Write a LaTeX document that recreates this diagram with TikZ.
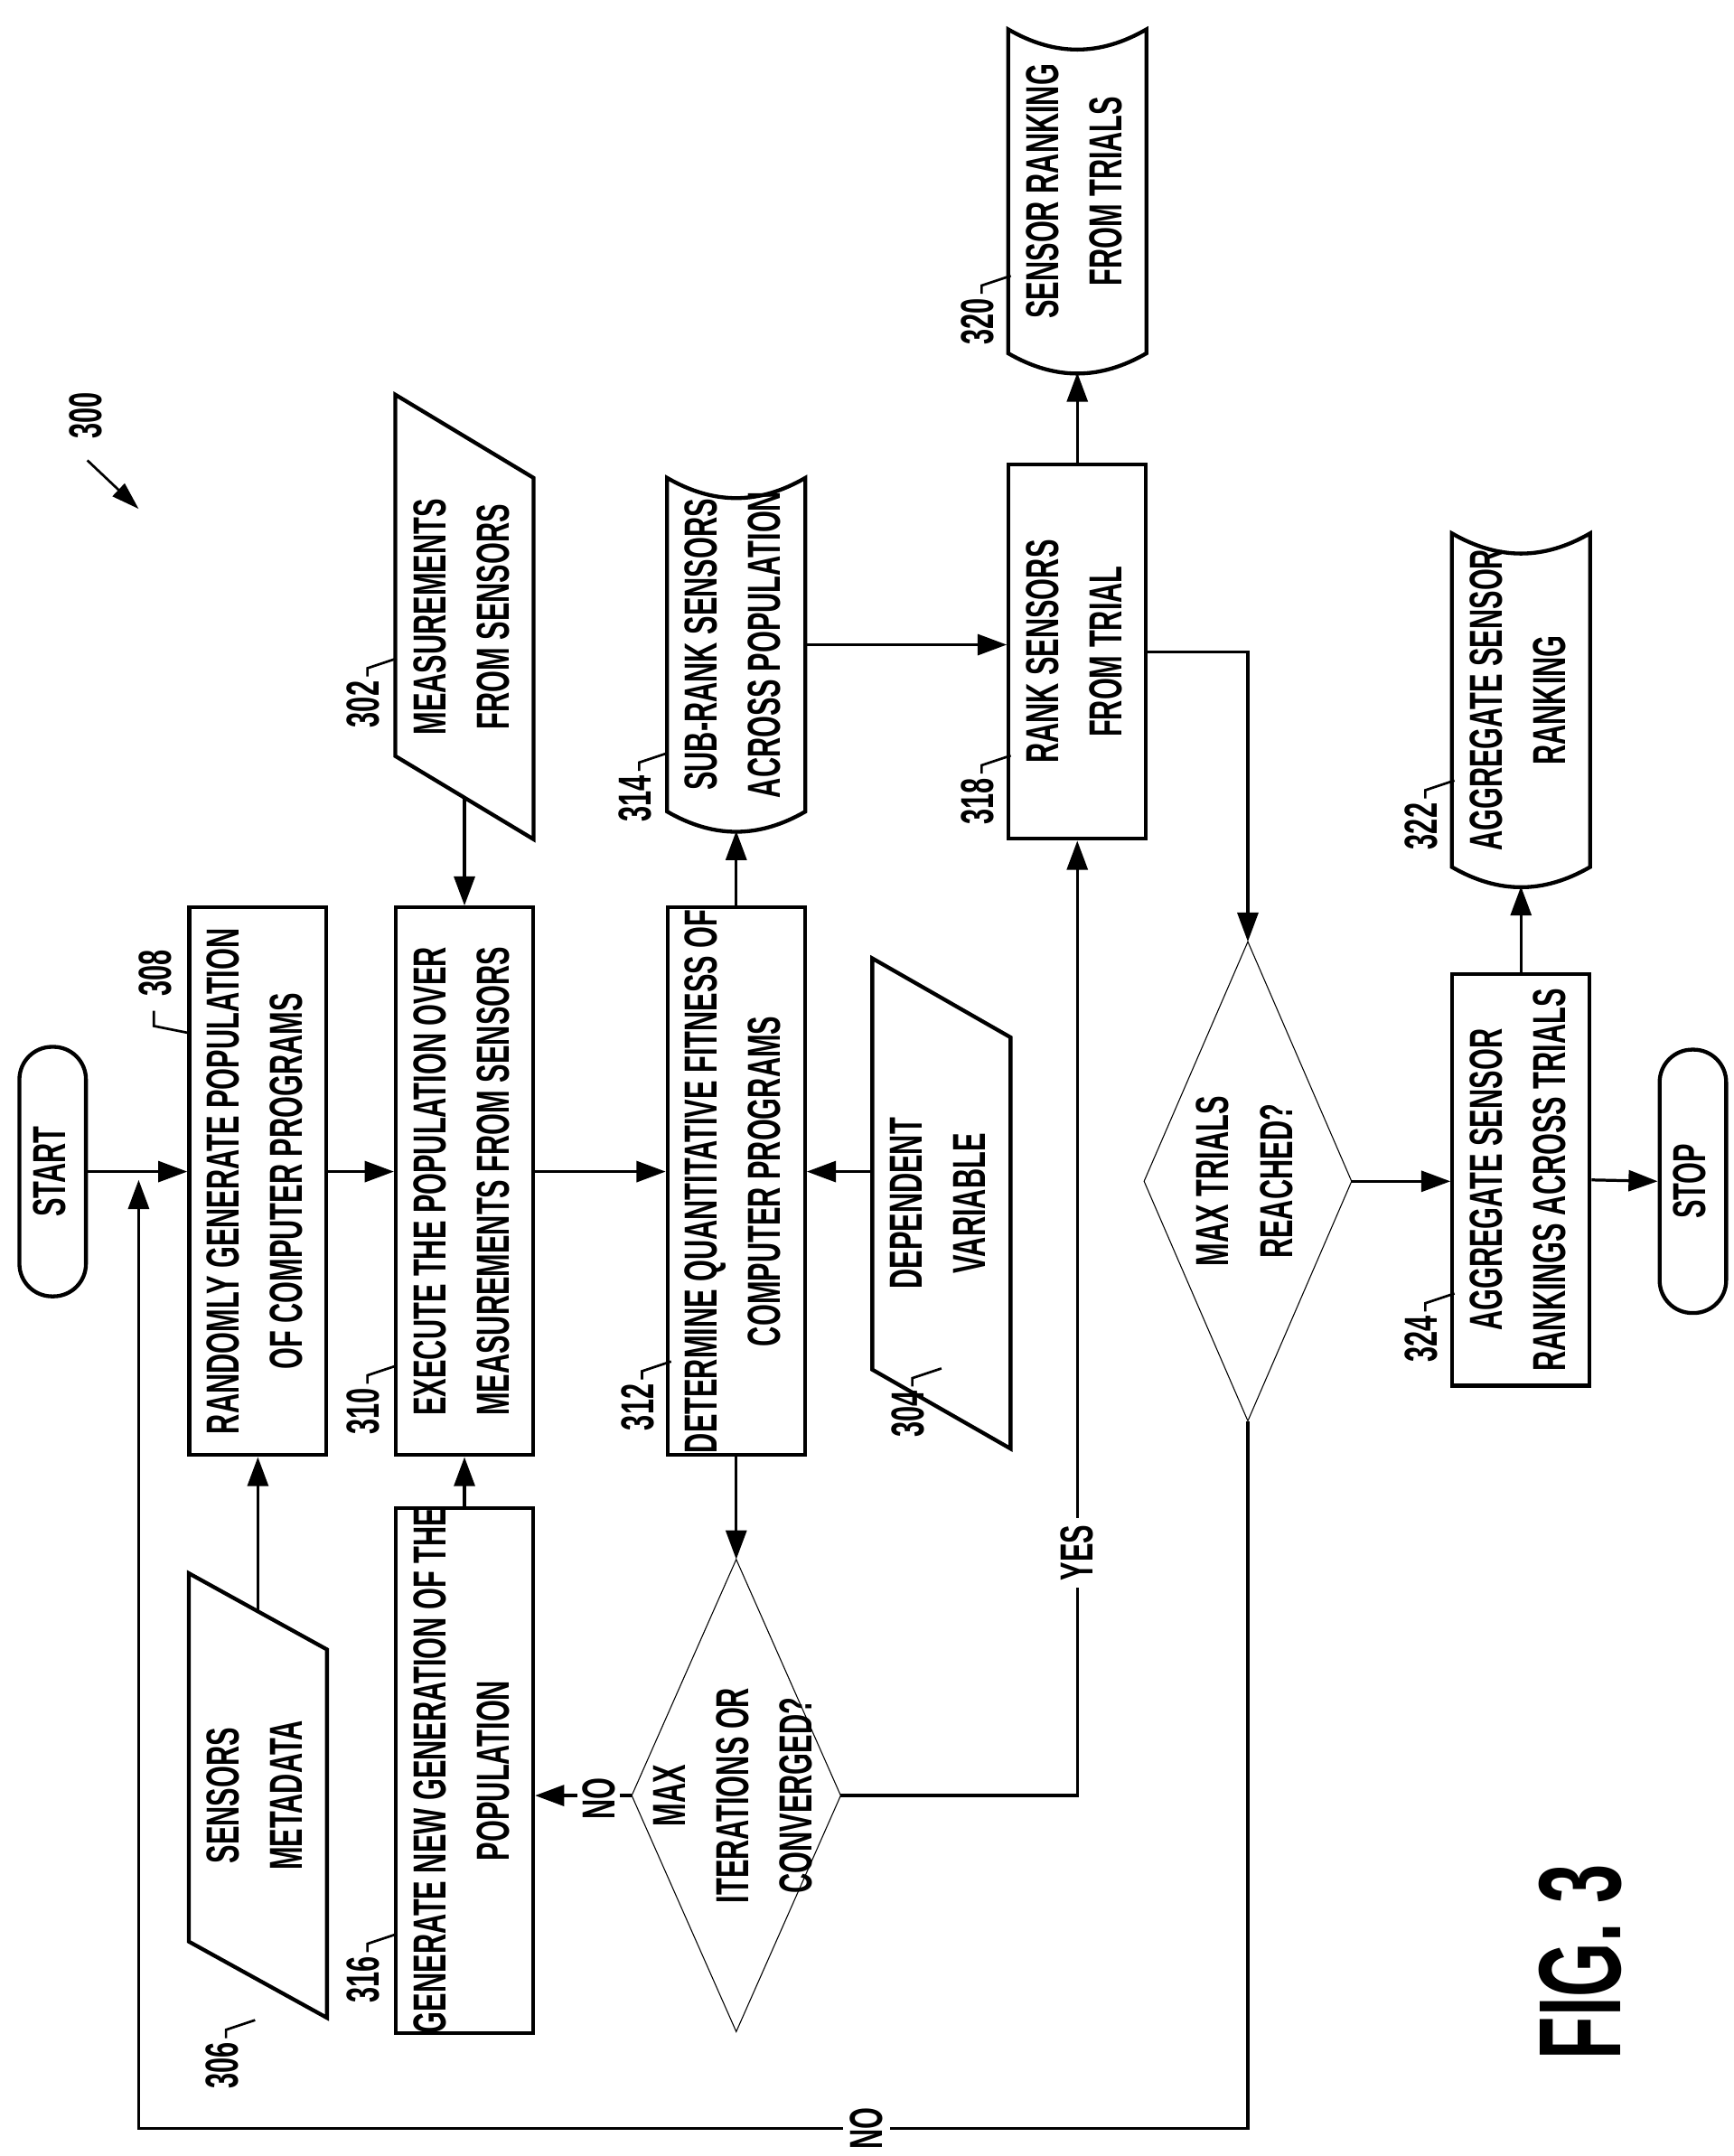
\documentclass[tikz,border=0pt]{standalone}
\usepackage{fontspec}
\setmainfont{Liberation Sans}[FakeStretch=0.6]
\usetikzlibrary{positioning,calc,arrows.meta,shapes.geometric}

\newcommand{\vtext}[1]{\rotatebox{90}{\begin{tabular}{@{}c@{}}#1\end{tabular}}}

\tikzset{
  base/.style={font=\fontsize{19}{26}\selectfont\bfseries, inner sep=0pt, align=center},
  box/.style={base, draw, line width=1.6pt, minimum width=1.98cm},
  area/.style={base, minimum width=1.98cm},
  term/.style={base, draw, line width=1.6pt, rounded corners=0.47cm, minimum width=0.96cm},
  outline/.style={line width=1.6pt, line join=miter},
  flow/.style={line width=1.2pt, -{Triangle[length=0.42cm,width=0.3cm]}},
  num/.style={font=\fontsize{19}{22}\selectfont\bfseries, inner sep=0pt},
  tick/.style={line width=1pt}
}

\begin{document}
\begin{tikzpicture}[x=0.02cm, y=-0.02cm]
  \useasboundingbox (0,0) rectangle (1250,1555);

  % Terminals
  \node[term, minimum height=3.6cm] (start) at (38,845) {\vtext{START}};
  \node[term, minimum height=3.8cm] (stop) at (1221,852) {\vtext{STOP}};

  % Process boxes
  \node[box, minimum height=7.9cm] (r308) at (186,852) {\vtext{RANDOMLY GENERATE POPULATION\\OF COMPUTER PROGRAMS}};
  \node[box, minimum height=7.9cm] (r310) at (335,852) {\vtext{EXECUTE THE POPULATION OVER\\MEASUREMENTS FROM SENSORS}};
  \node[box, minimum height=7.9cm] (r312) at (531,852) {\vtext{DETERMINE QUANTITATIVE FITNESS OF\\COMPUTER PROGRAMS}};
  \node[box, minimum height=7.1cm] (r316) at (335,1277) {\vtext{GENERATE NEW GENERATION OF THE\\POPULATION}};
  \node[box, minimum height=5.4cm] (r318) at (777,470) {\vtext{RANK SENSORS\\FROM TRIAL}};
  \node[box, minimum height=5.94cm] (r324) at (1097,851) {\vtext{AGGREGATE SENSOR\\RANKINGS ACROSS TRIALS}};

  % Inputs (parallelograms)
  \node[area, minimum height=6.4cm] (p302) at (335,445) {\vtext{MEASUREMENTS\\FROM SENSORS}};
  \node[area, minimum height=7.06cm] (p304) at (679,868) {\vtext{DEPENDENT\\VARIABLE}};
  \node[area, minimum height=6.4cm] (p306) at (186,1295) {\vtext{SENSORS\\METADATA}};
  \foreach \p/\s in {p302/60, p304/57, p306/55} {
    \draw[outline] (\p.north west) -- ($(\p.north east)+(0,\s)$) -- (\p.south east)
      -- ($(\p.south west)+(0,-\s)$) -- cycle;
  }

  % Stored data (tapes)
  \node[area, minimum height=4.8cm] (t314) at (531,465) {\vtext{SUB-RANK SENSORS\\ACROSS POPULATION}};
  \node[area, minimum height=4.66cm] (t320) at (777,138) {\vtext{SENSOR RANKING\\FROM TRIALS}};
  \node[area, minimum height=4.8cm] (t322) at (1097,505) {\vtext{AGGREGATE SENSOR\\RANKING}};
  \foreach \t in {t314, t320, t322} {
    \draw[outline] (\t.north west) to[bend right=30] (\t.north east) -- (\t.south east)
      to[bend left=30] (\t.south west) -- cycle;
  }

  % Decisions
  \node[area, minimum width=3cm, minimum height=6.8cm] (d1) at (531,1295) {\vtext{MAX\\ITERATIONS OR\\CONVERGED?}};
  \node[area, minimum width=2.98cm, minimum height=6.9cm] (d2) at (900,852) {\vtext{MAX TRIALS\\REACHED?}};
  \foreach \d in {d1, d2} {
    \draw[thin] (\d.north) -- (\d.east) -- (\d.south) -- (\d.west) -- cycle;
  }

  % Connectors
  \coordinate (j) at (100,845);
  \draw[flow] (start.east |- j) -- (r308.west |- j);
  \draw[flow] (r308.east |- j) -- (r310.west |- j);
  \draw[flow] (r310.east |- j) -- (r312.west |- j);
  \draw[flow] (p304.west |- j) -- (r312.east |- j);
  \draw[flow] ($(p302.south)+(0,-30)$) -- (r310.north);
  \draw[flow] ($(p306.north)+(0,27)$) -- (r308.south);
  \draw[flow] (r316.north) -- (r310.south);
  \draw[flow] (r312.north) -- ($(t314.south)+(0,14)$);
  \draw[flow] (r312.south) -- (d1.north);
  \draw[flow] (t314.east) -- (r318.west |- t314.east);
  \draw[flow] (r318.north) -- ($(t320.south)+(0,14)$);
  \draw[flow] (r318.east) -| (d2.north);
  \draw[flow] (d2.east) -- (r324.west |- d2.east);
  \draw[flow] (r324.east) -- (stop.west);
  \draw[flow] (r324.north) -- ($(t322.south)+(0,14)$);
  \draw[flow] (d1.west) -- (r316.east |- d1.west);
  \draw[flow] (d1.east) -| (r318.south);
  \draw[flow] (d2.south) -- (d2.south |- 0,1535) -- (j |- 0,1535) -- ($(j)+(0,6)$);

  % Branch labels
  \node[num, fill=white, inner sep=3pt] (yes) at (777,1120) {\rotatebox{90}{YES}};
  \node[num, fill=white, inner sep=2pt] (no1) at (432,1297) {\rotatebox{90}{NO}};
  \node[num, fill=white, inner sep=3pt] (no2) at (625,1535) {\rotatebox{90}{NO}};

  % Reference numerals
  \foreach \n/\x/\y in {302/262/508, 314/458/576, 318/705/578, 320/705/232, 322/1025/596,
                        324/1025/966, 312/460/1015, 310/262/1018, 316/262/1428,
                        306/160/1490, 304/655/1020} {
    \node[num] (l\n) at (\x,\y) {\rotatebox{90}{\n}};
    \draw[tick] ($(l\n.north)+(3,-3)$) -- ++(0,-6) -- ++(21,-7);
  }
  \node[num] (l308) at (112,702) {\rotatebox{90}{308}};
  \draw[tick] (111,729) -- (111,740) -- (136,745);

  \node[num] (l300) at (62,300) {\rotatebox{90}{300}};
  \coordinate (a300) at (100,367);
  \draw[line width=1pt, -{Triangle[length=0.4cm,width=0.25cm]}] (63,332) -- (a300);

  \node[font=\fontsize{48}{52}\selectfont\bfseries] (fig) at (1140,1415) {\rotatebox{90}{FIG. 3}};
\end{tikzpicture}
\end{document}
